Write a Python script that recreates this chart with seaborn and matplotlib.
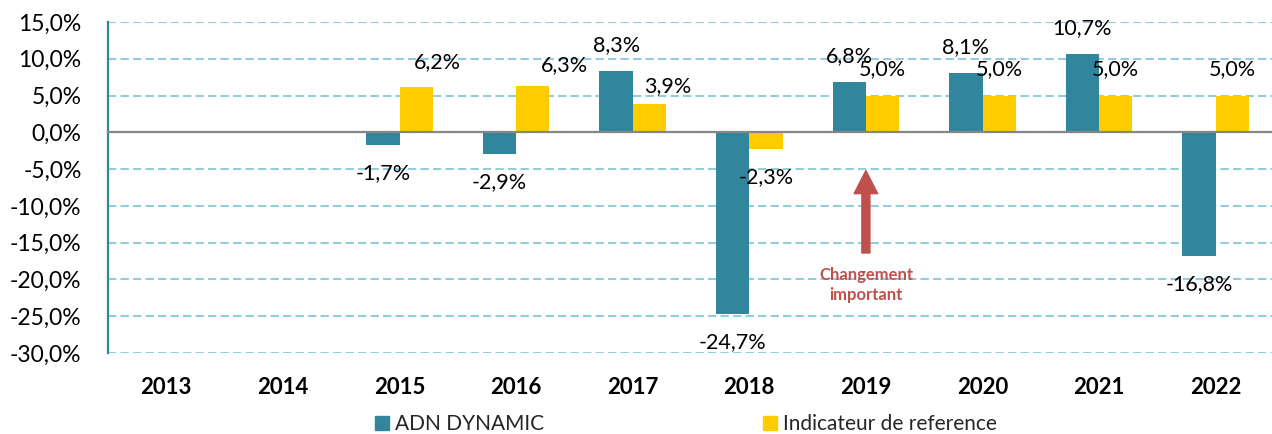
import numpy as np
import pandas as pd
import matplotlib
matplotlib.use("Agg")
import matplotlib.pyplot as plt
import seaborn as sns

# données (en %)
annees = ["2013", "2014", "2015", "2016", "2017", "2018", "2019", "2020", "2021", "2022"]
adn_dynamic = [np.nan, np.nan, -1.7, -2.9, 8.3, -24.7, 6.8, 8.1, 10.7, -16.8]
indicateur = [np.nan, np.nan, 6.2, 6.3, 3.9, -2.3, 5.0, 5.0, 5.0, 5.0]
series = ["ADN DYNAMIC", "Indicateur de reference"]
y_ticks = [15, 10, 5, 0, -5, -10, -15, -20, -25, -30]

TEAL = "#31859C"
JAUNE = "#FFCC00"
ROUGE = "#C0504D"

df = pd.DataFrame({
    "annee": annees * 2,
    "valeur": adn_dynamic + indicateur,
    "serie": [series[0]] * len(annees) + [series[1]] * len(annees),
}).dropna()

sns.set_style("white")
plt.rcParams["font.family"] = ["Lato", "DejaVu Sans"]

fig = plt.figure(figsize=(12.72, 4.34), dpi=100)
ax = fig.add_axes([108 / 1272, 81 / 434, 1166 / 1272, 331 / 434])

sns.barplot(data=df, x="annee", y="valeur", hue="serie", order=annees,
            hue_order=series, palette=[TEAL, JAUNE], saturation=1, width=0.57,
            edgecolor="none", errorbar=None, legend=True, ax=ax, zorder=2)

ax.set_xlim(-0.5, 9.5)
ax.set_ylim(-30, 15)
ax.set_yticks(y_ticks)
ax.set_yticklabels([f"{v:.1f}%".replace(".", ",") for v in y_ticks], fontsize=16.5)
ax.set_xlabel("")
ax.set_ylabel("")

# grille pointillée
ax.grid(axis="y", color="#92CDDC", linewidth=1.5, linestyle=(0, (4, 2)))
ax.set_axisbelow(True)

for s in ["top", "right"]:
    ax.spines[s].set_visible(False)
ax.spines["left"].set_color(TEAL)
ax.spines["left"].set_linewidth(1.6)
ax.spines["bottom"].set_position(("data", 0))
ax.spines["bottom"].set_color("#878787")
ax.spines["bottom"].set_linewidth(1.6)
ax.spines["bottom"].set_zorder(3)

ax.tick_params(axis="y", length=6, width=1.6, color=TEAL, pad=13, labelcolor="black")
ax.set_xticks(range(len(annees)))
ax.set_xticklabels(annees, fontsize=16, fontweight="bold")
ax.tick_params(axis="x", which="major", length=0, pad=176, labelcolor="black")
ax.set_xticks(np.arange(-0.5, 10, 1), minor=True)
ax.tick_params(axis="x", which="minor", length=5, width=1.5, color="#878787")

# étiquettes de données
decalages = {("Indicateur de reference", "2015"): (21, 25),
             ("Indicateur de reference", "2016"): (32, 21),
             ("Indicateur de reference", "2017"): (18, 18)}
for serie, cont in zip(series, ax.containers):
    sub = df[df["serie"] == serie]
    for bar, (_, row) in zip(cont, sub.iterrows()):
        h = bar.get_height()
        xc = bar.get_x() + bar.get_width() / 2
        dx, dy = decalages.get((serie, row["annee"]), (0, 26))
        dy = dy if h >= 0 else -28
        ax.annotate(f"{row['valeur']:.1f}%".replace(".", ","), (xc, h),
                    xytext=(dx, dy), textcoords="offset pixels",
                    ha="center", va="center", fontsize=15.5, color="black", zorder=5)

# flèche "Changement important"
ax.annotate("", xy=(6, -5.2), xytext=(6, -16.4),
            arrowprops=dict(arrowstyle="simple,head_length=0.83,head_width=0.85,tail_width=0.29",
                            color=ROUGE, shrinkA=0, shrinkB=0, mutation_scale=20))
ax.text(6, -20.7, "Changement\nimportant", ha="center", va="center",
        fontsize=12, fontweight="bold", color=ROUGE, linespacing=1.3)

ax.legend_.remove()
handles = [plt.Rectangle((0, 0), 1, 1, color=c) for c in [TEAL, JAUNE]]
fig.legend(handles, series, loc="center", bbox_to_anchor=(686 / 1272, 10 / 434),
           ncol=2, frameon=False, fontsize=15, handlelength=0.67, handleheight=0.67,
           handletextpad=0.3, columnspacing=10.5, borderpad=0, borderaxespad=0)

fig.savefig("out.png", dpi=100)
